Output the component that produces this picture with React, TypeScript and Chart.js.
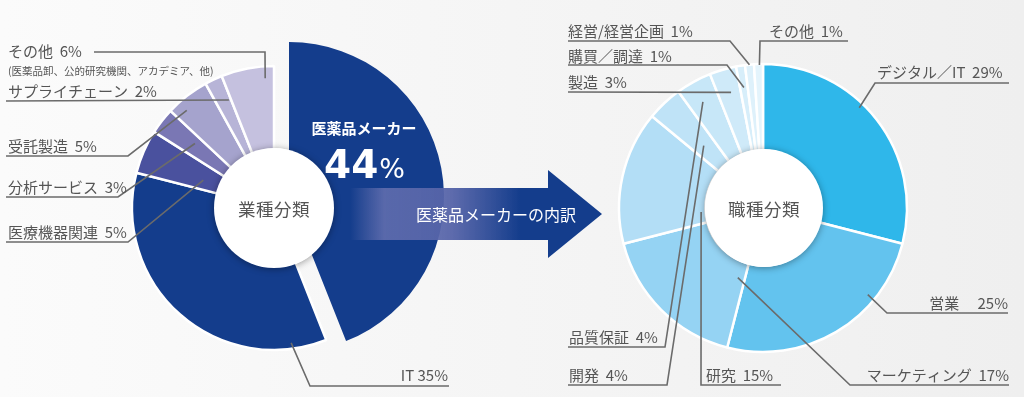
import React, { useEffect, useRef } from "react";
import { Chart, registerables } from "chart.js";

Chart.register(...registerables);

// ---------- data ----------
const industryLabels = ["医薬品メーカー", "IT", "医療機器関連", "分析サービス", "受託製造", "サプライチェーン", "その他"];
const industryValues = [44, 35, 5, 3, 5, 2, 6];
const industryColors = ["#143d8c", "#143d8c", "#4a519e", "#7a77b4", "#a5a3cd", "#b7b4d7", "#c5c1df"];
const industryNote = "(医薬品卸、公的研究機関、アカデミア、他)";

const jobLabels = ["デジタル／IT", "営業", "マーケティング", "研究", "開発", "品質保証", "製造", "購買／調達", "経営/経営企画", "その他"];
const jobValues = [29, 25, 17, 15, 4, 4, 3, 1, 1, 1];
const jobColors = ["#2fb7ea", "#63c3ee", "#95d3f3", "#b3def6", "#bfe3f7", "#c7e7f8", "#cfeaf9", "#d7eefa", "#def1fb", "#e4f4fc"];

const centerLeft = "業種分類";
const centerRight = "職種分類";
const arrowText = "医薬品メーカーの内訳";

// ---------- layout ----------
type Callout = {
  index: number; t: number; r: number;
  path: [number, number][];
  tx: number; ty: number; align: CanvasTextAlign; sep: string;
};

const leftCallouts: Callout[] = [
  { index: 6, t: 0.82, r: 130, path: [[265, 52], [94, 52]], tx: 8, ty: 51, align: "left", sep: "  " },
  { index: 5, t: 0.85, r: 117, path: [[6, 101]], tx: 8, ty: 91, align: "left", sep: "  " },
  { index: 4, t: 0.28, r: 131, path: [[128, 156], [6, 156]], tx: 8, ty: 146, align: "left", sep: "  " },
  { index: 3, t: 0.63, r: 102, path: [[118, 197], [6, 197]], tx: 8, ty: 187, align: "left", sep: "  " },
  { index: 2, t: 0.4, r: 76, path: [[128, 242], [6, 242]], tx: 8, ty: 232, align: "left", sep: "  " },
  { index: 1, t: 0.114, r: 136, path: [[310, 386], [449, 386]], tx: 448, ty: 375, align: "right", sep: " " },
];

const rightCallouts: Callout[] = [
  { index: 0, t: 0.42, r: 139, path: [[875, 83], [1009, 83]], tx: 877, ty: 72, align: "left", sep: "  " },
  { index: 1, t: 0.28, r: 136, path: [[887, 313], [1008, 313]], tx: 1008, ty: 303, align: "right", sep: "　 " },
  { index: 2, t: 0.09, r: 74, path: [[850, 385], [1009, 385]], tx: 1009, ty: 375, align: "right", sep: "  " },
  { index: 3, t: 0.2, r: 62, path: [[701, 385], [781, 385]], tx: 706, ty: 375, align: "left", sep: "  " },
  { index: 4, t: 0.475, r: 86, path: [[667, 385], [568, 385]], tx: 569, ty: 375, align: "left", sep: "  " },
  { index: 5, t: 0.45, r: 122, path: [[665, 347], [568, 347]], tx: 569, ty: 337, align: "left", sep: "  " },
  { index: 6, t: 0.57, r: 120, path: [[568, 92]], tx: 568, ty: 82, align: "left", sep: "  " },
  { index: 7, t: 0.5, r: 122, path: [[727, 65], [568, 65]], tx: 568, ty: 56, align: "left", sep: "  " },
  { index: 8, t: 0.5, r: 144, path: [[730, 41], [568, 41]], tx: 568, ty: 31, align: "left", sep: "  " },
  { index: 9, t: 0.6, r: 143, path: [[760, 41], [848, 41]], tx: 769, ty: 31, align: "left", sep: "  " },
];

const W = 1024;
const H = 397;
const FONT = '"Noto Sans CJK JP", "Noto Sans", sans-serif';
const NUM_FONT = '"DejaVu Sans", "Noto Sans", sans-serif';

function padFor(cx: number, cy: number) {
  const s = Math.min(cx, W - cx, cy, H - cy);
  return { left: cx - s, right: W - cx - s, top: cy - s, bottom: H - cy - s };
}

function calloutPlugin(id: string, callouts: Callout[], labels: string[], values: number[], note?: { index: number; text: string; x: number; y: number }) {
  return {
    id,
    afterDatasetsDraw(chart: any) {
      const ctx: CanvasRenderingContext2D = chart.ctx;
      const meta = chart.getDatasetMeta(0);
      ctx.save();
      for (const c of callouts) {
        const arc = meta.data[c.index];
        const p = arc.getProps(["x", "y", "startAngle", "endAngle"], true);
        const a = p.startAngle + (p.endAngle - p.startAngle) * c.t;
        ctx.beginPath();
        ctx.strokeStyle = "#6b6b6b";
        ctx.lineWidth = 1.6;
        ctx.lineJoin = "miter";
        ctx.moveTo(p.x + Math.cos(a) * c.r, p.y + Math.sin(a) * c.r);
        for (const pt of c.path) ctx.lineTo(pt[0], pt[1]);
        ctx.stroke();
        ctx.fillStyle = "#555555";
        ctx.font = `15px ${FONT}`;
        ctx.textAlign = c.align;
        ctx.textBaseline = "middle";
        ctx.fillText(`${labels[c.index]}${c.sep}${values[c.index]}%`, c.tx, c.ty);
      }
      if (note) {
        ctx.fillStyle = "#555555";
        ctx.font = `10.5px ${FONT}`;
        ctx.textAlign = "left";
        ctx.textBaseline = "middle";
        ctx.fillText(note.text, note.x, note.y);
      }
      ctx.restore();
    },
  };
}

const bigLabelPlugin = {
  id: "bigLabel",
  afterDatasetsDraw(chart: any) {
    const ctx: CanvasRenderingContext2D = chart.ctx;
    const cx = 364;
    ctx.save();
    ctx.fillStyle = "#ffffff";
    ctx.textBaseline = "middle";
    ctx.textAlign = "center";
    ctx.font = `bold 15px ${FONT}`;
    ctx.fillText(industryLabels[0], cx, 128);
    ctx.textBaseline = "alphabetic";
    ctx.textAlign = "left";
    const num = String(industryValues[0]);
    ctx.font = `bold 39px ${NUM_FONT}`;
    const w1 = ctx.measureText(num).width;
    ctx.font = `27px ${NUM_FONT}`;
    const w2 = ctx.measureText("%").width;
    const start = cx - (w1 + w2) / 2;
    ctx.font = `bold 39px ${NUM_FONT}`;
    ctx.fillText(num, start, 178);
    ctx.font = `27px ${NUM_FONT}`;
    ctx.fillText("%", start + w1 + 1, 178);
    ctx.restore();
  },
};

const baseOptions = (padding: any, cutout: string) => ({
  responsive: false,
  animation: false as const,
  events: [] as any[],
  cutout,
  layout: { padding },
  plugins: { legend: { display: false }, tooltip: { enabled: false } },
});

export default function App() {
  const aRef = useRef<HTMLCanvasElement>(null);
  const bRef = useRef<HTMLCanvasElement>(null);
  const cRef = useRef<HTMLCanvasElement>(null);

  useEffect(() => {
    document.body.style.margin = "0";
    // exploded pharma-maker slice
    const chartA = new Chart(aRef.current!, {
      type: "doughnut",
      data: {
        labels: [industryLabels[0], "rest"],
        datasets: [{
          data: [industryValues[0], industryValues.slice(1).reduce((s, v) => s + v, 0)],
          backgroundColor: [industryColors[0], "rgba(0,0,0,0)"],
          borderWidth: 0,
          radius: 155,
        } as any],
      },
      options: baseOptions(padFor(289, 197), "22%") as any,
      plugins: [bigLabelPlugin],
    });
    // industry ring
    const chartB = new Chart(bRef.current!, {
      type: "doughnut",
      data: {
        labels: industryLabels,
        datasets: [{
          data: industryValues,
          backgroundColor: industryColors.map((c, i) => (i === 0 ? "rgba(0,0,0,0)" : c)),
          borderColor: "#ffffff",
          borderWidth: industryValues.map((_, i) => (i === 0 ? 0 : 2.5)),
          radius: 142,
        } as any],
      },
      options: baseOptions(padFor(274, 208), "40%") as any,
      plugins: [calloutPlugin("leftCallouts", leftCallouts, industryLabels, industryValues, { index: 6, text: industryNote, x: 8, y: 71 })],
    });
    // job ring
    const chartC = new Chart(cRef.current!, {
      type: "doughnut",
      data: {
        labels: jobLabels,
        datasets: [{
          data: jobValues,
          backgroundColor: jobColors,
          borderColor: "#ffffff",
          borderWidth: 2.5,
          radius: 144,
        } as any],
      },
      options: baseOptions(padFor(763, 208), "40%") as any,
      plugins: [calloutPlugin("rightCallouts", rightCallouts, jobLabels, jobValues)],
    });
    return () => {
      chartA.destroy();
      chartB.destroy();
      chartC.destroy();
    };
  }, []);

  const canvasStyle: React.CSSProperties = { position: "absolute", left: 0, top: 0, width: W, height: H };
  const circle = (cx: number, cy: number, r: number): React.CSSProperties => ({
    position: "absolute",
    left: cx - r,
    top: cy - r,
    width: r * 2,
    height: r * 2,
    borderRadius: "50%",
    background: "radial-gradient(circle, #ffffff 76%, #f1f1f1 100%)",
    boxShadow: "0 1px 7px rgba(0,0,0,0.38)",
    display: "flex",
    alignItems: "center",
    justifyContent: "center",
    fontFamily: FONT,
    fontSize: 17.5,
    color: "#555555",
    letterSpacing: 0.5,
  });

  return (
    <div
      style={{
        position: "fixed",
        left: 0,
        top: 0,
        width: W,
        height: H,
        overflow: "hidden",
        background: "linear-gradient(to right, #fbfbfb 0%, #f5f5f5 50%, #efefef 100%)",
      }}
    >
      <canvas ref={aRef} width={W} height={H} style={canvasStyle} />
      <canvas ref={bRef} width={W} height={H} style={canvasStyle} />
      <canvas ref={cRef} width={W} height={H} style={canvasStyle} />
      <svg width={W} height={H} style={{ position: "absolute", left: 0, top: 0 }}>
        <defs>
          <linearGradient id="band" gradientUnits="userSpaceOnUse" x1="350" y1="0" x2="520" y2="0">
            <stop offset="0" stopColor="#6a74b2" stopOpacity="0" />
            <stop offset="0.2" stopColor="#6570b0" stopOpacity="0.85" />
            <stop offset="0.6" stopColor="#5563a8" stopOpacity="0.95" />
            <stop offset="1" stopColor="#143d8c" stopOpacity="1" />
          </linearGradient>
        </defs>
        <polygon points="350,188 548,188 548,170 602,214 548,258 548,240 350,240" fill="url(#band)" />
        <text x={496} y={214} fill="#ffffff" fontFamily={FONT} fontSize={16} textAnchor="middle" dominantBaseline="central">
          {arrowText}
        </text>
      </svg>
      <div style={circle(274, 208, 60)}>{centerLeft}</div>
      <div style={circle(764, 208, 59)}>{centerRight}</div>
    </div>
  );
}
